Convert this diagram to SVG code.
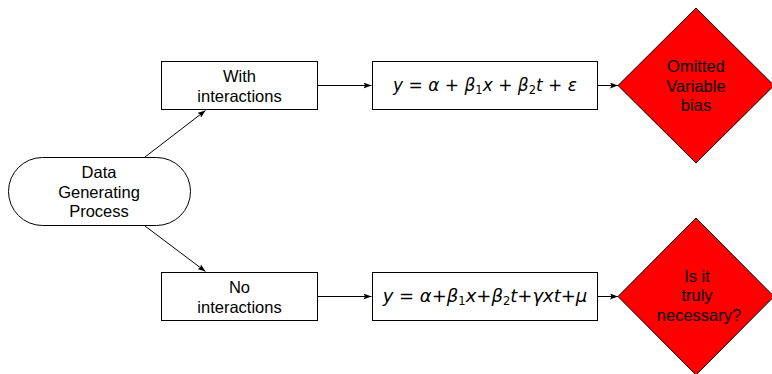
<svg xmlns="http://www.w3.org/2000/svg" width="772" height="374" viewBox="0 0 772 374">
  <defs>
    <marker id="arrow" viewBox="0 0 8 6" refX="8" refY="3" markerWidth="8" markerHeight="6" markerUnits="userSpaceOnUse" orient="auto">
      <path d="M0,0 L8,3 L0,6 L1.6,3 Z" fill="#000"/>
    </marker>
    <style>
      .box { fill: #fff; stroke: #000; stroke-width: 1; }
      .dec { fill: #ff0000; stroke: #000; stroke-width: 1; }
      .lbl { font-family: "Liberation Sans", "DejaVu Sans", sans-serif; font-size: 16.5px; fill: #000; text-anchor: middle; }
      .eq { font-family: "DejaVu Sans", "Liberation Sans", sans-serif; font-size: 17px; fill: #000; text-anchor: middle; }
      .eq2 { font-size: 18px; }
      .v { font-style: italic; }
      .sub { font-size: 11.5px; font-style: normal; }
      .edge { fill: none; stroke: #000; stroke-width: 1; marker-end: url(#arrow); }
    </style>
  </defs>
  <rect width="772" height="374" fill="#fff"/>

  <g id="connectors">
    <line class="edge" x1="145" y1="157" x2="205.5" y2="110.5"/>
    <line class="edge" x1="145" y1="226" x2="205.5" y2="271.5"/>
    <line class="edge" x1="318" y1="85.5" x2="371.5" y2="85.5"/>
    <line class="edge" x1="318" y1="296.5" x2="371.5" y2="296.5"/>
    <line class="edge" x1="598" y1="85.5" x2="618" y2="85.5"/>
    <line class="edge" x1="598" y1="296.5" x2="618" y2="296.5"/>
  </g>

  <g id="dgp">
    <rect class="box" x="8.5" y="157.5" width="182" height="68" rx="34" ry="34"/>
    <text class="lbl" x="99" y="178">Data</text>
    <text class="lbl" x="99" y="197.5">Generating</text>
    <text class="lbl" x="99" y="217">Process</text>
  </g>

  <g id="with-interactions">
    <rect class="box" x="161.5" y="61.5" width="156" height="48"/>
    <text class="lbl" x="239.5" y="82">With</text>
    <text class="lbl" x="239.5" y="102">interactions</text>
  </g>

  <g id="no-interactions">
    <rect class="box" x="161.5" y="272.5" width="156" height="48"/>
    <text class="lbl" x="239.5" y="293">No</text>
    <text class="lbl" x="239.5" y="313">interactions</text>
  </g>

  <g id="eq-restricted">
    <rect class="box" x="372.5" y="61.5" width="225" height="48"/>
    <text class="eq" x="485" y="91" xml:space="preserve"><tspan class="v">y</tspan> = <tspan class="v">α</tspan> + <tspan class="v">β</tspan><tspan class="sub" dy="3">1</tspan><tspan class="v" dy="-3">x</tspan> + <tspan class="v">β</tspan><tspan class="sub" dy="3">2</tspan><tspan class="v" dy="-3">t</tspan> + <tspan class="v">ε</tspan></text>
  </g>

  <g id="eq-full">
    <rect class="box" x="372.5" y="272.5" width="225" height="48"/>
    <text class="eq eq2" x="485" y="302"><tspan class="v">y</tspan> = <tspan class="v">α</tspan>+<tspan class="v">β</tspan><tspan class="sub" dy="3">1</tspan><tspan class="v" dy="-3">x</tspan>+<tspan class="v">β</tspan><tspan class="sub" dy="3">2</tspan><tspan class="v" dy="-3">t</tspan>+<tspan class="v">γxt</tspan>+<tspan class="v">μ</tspan></text>
  </g>

  <g id="omitted-variable-bias">
    <polygon class="dec" points="696,8 774,85.5 696,163 618,85.5"/>
    <text class="lbl" x="696" y="72">Omitted</text>
    <text class="lbl" x="696" y="92">Variable</text>
    <text class="lbl" x="696" y="111">bias</text>
  </g>

  <g id="truly-necessary">
    <polygon class="dec" points="696,218 774,296.5 696,375 618,296.5"/>
    <text class="lbl" x="697" y="282">Is it</text>
    <text class="lbl" x="697" y="301">truly</text>
    <text class="lbl" x="699" y="321">necessary?</text>
  </g>
</svg>
